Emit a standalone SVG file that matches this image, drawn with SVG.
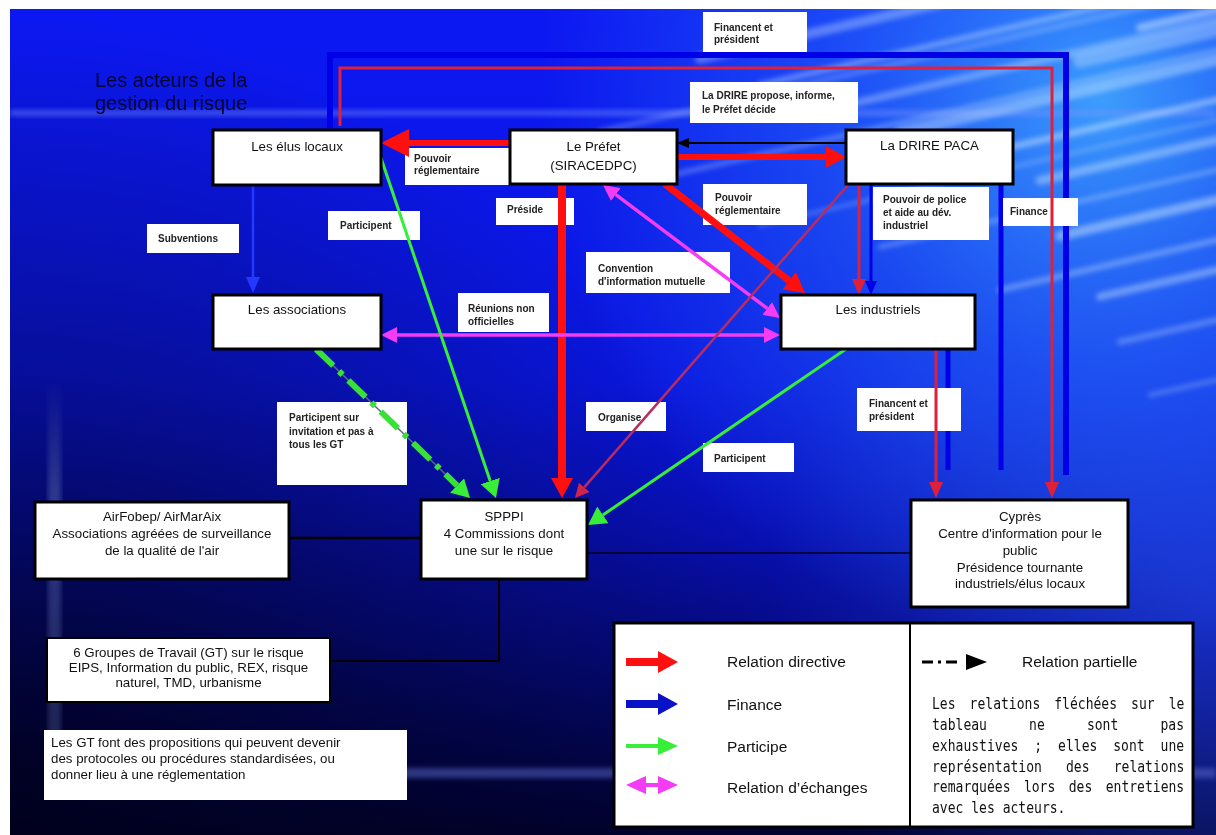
<svg xmlns="http://www.w3.org/2000/svg" width="1216" height="835" viewBox="0 0 1216 835">
<style>
.box{fill:#fff;stroke:#000;stroke-width:3}
.box2{fill:#fff;stroke:#000;stroke-width:2}
.lbl{fill:#fff}
.nt{font-family:"Liberation Sans",Arial,sans-serif;font-size:13.3px;fill:#111;text-anchor:middle}
.lt{font-family:"Liberation Sans",Arial,sans-serif;font-size:10px;font-weight:bold;fill:#222}
.leg{font-family:"Liberation Sans",Arial,sans-serif;font-size:15.5px;fill:#111}
.mono{font-family:"DejaVu Sans Mono","Liberation Mono",monospace;font-size:15px;fill:#111}
.title{font-family:"Liberation Sans",Arial,sans-serif;font-size:20px;fill:#05052e}
.red{fill:none;stroke:#ff1010}
.crim{fill:none;stroke:#e0203a;stroke-width:3}
.blue{fill:none;stroke:#0000e6}
.green{fill:none;stroke:#38ee38;stroke-width:3}
.mag{fill:none;stroke:#f53cf5;stroke-width:3.5}
.blk{fill:none;stroke:#000}
</style>
<defs>
<linearGradient id="bgV" x1="0" y1="0" x2="0" y2="1">
<stop offset="0" stop-color="#0c18f2"/>
<stop offset="0.45" stop-color="#0a16e0"/>
<stop offset="0.62" stop-color="#0810b8"/>
<stop offset="0.78" stop-color="#050a80"/>
<stop offset="0.92" stop-color="#02044a"/>
<stop offset="1" stop-color="#010230"/>
</linearGradient>
<radialGradient id="darkBL" cx="0" cy="835" r="820" gradientUnits="userSpaceOnUse">
<stop offset="0" stop-color="#000018" stop-opacity="0.8"/>
<stop offset="1" stop-color="#000018" stop-opacity="0"/>
</radialGradient>
<radialGradient id="lightR" cx="1216" cy="600" r="450" gradientUnits="userSpaceOnUse">
<stop offset="0" stop-color="#2a50ff" stop-opacity="0.5"/>
<stop offset="1" stop-color="#2a50ff" stop-opacity="0"/>
</radialGradient>
<radialGradient id="lightTR" cx="1100" cy="100" r="560" gradientUnits="userSpaceOnUse">
<stop offset="0" stop-color="#45b5ff" stop-opacity="0.85"/>
<stop offset="0.5" stop-color="#3090ff" stop-opacity="0.4"/>
<stop offset="1" stop-color="#3090ff" stop-opacity="0"/>
</radialGradient>
<linearGradient id="vband" x1="0" y1="0" x2="0" y2="1">
<stop offset="0" stop-color="#6070b0" stop-opacity="0"/>
<stop offset="0.3" stop-color="#6070b0" stop-opacity="0.45"/>
<stop offset="1" stop-color="#6070b0" stop-opacity="0.3"/>
</linearGradient>
<filter id="blur" x="-10%" y="-50%" width="120%" height="200%"><feGaussianBlur stdDeviation="2.5"/></filter>
<clipPath id="bgClip"><rect x="10" y="9" width="1206" height="826"/></clipPath>
<marker id="mRedL" markerUnits="userSpaceOnUse" markerWidth="28" markerHeight="28" refX="0" refY="14" orient="auto"><path d="M0,0 L28,14 L0,28 z" fill="#ff1010"/></marker>
<marker id="mRedM" markerUnits="userSpaceOnUse" markerWidth="20" markerHeight="22" refX="0" refY="11" orient="auto"><path d="M0,0 L20,11 L0,22 z" fill="#ff1010"/></marker>
<marker id="mCrim" markerUnits="userSpaceOnUse" markerWidth="16" markerHeight="14" refX="0" refY="7" orient="auto"><path d="M0,0 L16,7 L0,14 z" fill="#e0203a"/></marker>
<marker id="mOrg" markerUnits="userSpaceOnUse" markerWidth="14" markerHeight="14" refX="0" refY="7" orient="auto"><path d="M0,0 L14,7 L0,14 z" fill="#d0244a"/></marker>
<marker id="mBlue" markerUnits="userSpaceOnUse" markerWidth="14" markerHeight="12" refX="0" refY="6" orient="auto"><path d="M0,0 L14,6 L0,12 z" fill="#0000e6"/></marker>
<marker id="mSub" markerUnits="userSpaceOnUse" markerWidth="16" markerHeight="14" refX="0" refY="7" orient="auto"><path d="M0,0 L16,7 L0,14 z" fill="#2438ff"/></marker>
<marker id="mGreen" markerUnits="userSpaceOnUse" markerWidth="18" markerHeight="20" refX="0" refY="10" orient="auto"><path d="M0,0 L18,10 L0,20 z" fill="#38ee38"/></marker>
<marker id="mMag" markerUnits="userSpaceOnUse" markerWidth="16" markerHeight="16" refX="0" refY="8" orient="auto-start-reverse"><path d="M0,0 L16,8 L0,16 z" fill="#f53cf5"/></marker>
<marker id="mBlack" markerUnits="userSpaceOnUse" markerWidth="12" markerHeight="10" refX="0" refY="5" orient="auto"><path d="M0,0 L12,5 L0,10 z" fill="#000"/></marker>
</defs>

<g id="background">
<rect x="0" y="0" width="1216" height="835" fill="#fff"/>
<rect x="10" y="9" width="1206" height="826" fill="url(#bgV)"/>
<g clip-path="url(#bgClip)">
<rect x="10" y="9" width="1206" height="826" fill="url(#darkBL)"/>
<rect x="10" y="9" width="1206" height="826" fill="url(#lightR)"/>
<rect x="10" y="9" width="1206" height="826" fill="url(#lightTR)"/>
<rect x="10" y="110" width="1206" height="6" fill="#7a95ff" opacity="0.45" filter="url(#blur)"/>
<rect x="340" y="768" width="876" height="10" fill="#5a6ad0" opacity="0.5" filter="url(#blur)"/>
<rect x="48" y="380" width="13" height="370" fill="url(#vband)" filter="url(#blur)"/>
<g stroke="#d4ebff" stroke-linecap="round" fill="none" filter="url(#blur)">
<line x1="700" y1="58.7" x2="1230" y2="-63" stroke-width="10" opacity="0.35"/>
<line x1="760" y1="84.9" x2="1230" y2="-23" stroke-width="6" opacity="0.4"/>
<line x1="820" y1="111" x2="1230" y2="17" stroke-width="8" opacity="0.35"/>
<line x1="650" y1="180" x2="1230" y2="47" stroke-width="5" opacity="0.3"/>
<line x1="900" y1="132.7" x2="1230" y2="57" stroke-width="12" opacity="0.4"/>
<line x1="980" y1="154" x2="1230" y2="97" stroke-width="7" opacity="0.45"/>
<line x1="1040" y1="180.5" x2="1230" y2="137" stroke-width="9" opacity="0.4"/>
<line x1="880" y1="247" x2="1230" y2="167" stroke-width="5" opacity="0.3"/>
<line x1="1060" y1="236" x2="1230" y2="197" stroke-width="10" opacity="0.45"/>
<line x1="1000" y1="290" x2="1230" y2="237" stroke-width="6" opacity="0.35"/>
<line x1="1100" y1="296.7" x2="1230" y2="267" stroke-width="8" opacity="0.4"/>
<line x1="1120" y1="342" x2="1230" y2="317" stroke-width="6" opacity="0.3"/>
<line x1="760" y1="225" x2="1230" y2="117" stroke-width="4" opacity="0.25"/>
<line x1="1150" y1="395" x2="1230" y2="377" stroke-width="5" opacity="0.25"/>
<line x1="600" y1="131.7" x2="1230" y2="-13" stroke-width="6" opacity="0.25"/>
<line x1="1080" y1="61" x2="1230" y2="27" stroke-width="14" opacity="0.35"/>
<line x1="1140" y1="27.5" x2="1230" y2="7" stroke-width="8" opacity="0.5"/>
</g>
</g>
<text class="title" fill="#05052e" x="95" y="87">Les acteurs de la</text>
<text class="title" fill="#05052e" x="95" y="110">gestion du risque</text>
</g>

<g id="connectors-finance">
<path class="blue" stroke-width="6" d="M330,128 V55 H1066 V475"/>
<path class="blue" stroke-width="5" d="M1001,184 V470"/>
<path class="blue" stroke-width="5" d="M948,349 V470"/>
<path class="blue" stroke-width="3" d="M871,184 V281" marker-end="url(#mBlue)"/>
<path fill="none" stroke="#2438ff" stroke-width="2.5" d="M253,186 V277" marker-end="url(#mSub)"/>
</g>

<g id="labels">
<g id="lbl-financent-top"><rect class="lbl" x="703" y="12" width="104" height="40"/><text class="lt" x="714" y="31">Financent et</text><text class="lt" x="714" y="43">président</text></g>
<g id="lbl-drire-propose"><rect class="lbl" x="690" y="82" width="168" height="41"/><text class="lt" x="702" y="99">La DRIRE propose, informe,</text><text class="lt" x="702" y="113">le Préfet décide</text></g>
<g id="lbl-pouvoir1"><rect class="lbl" x="405" y="148" width="105" height="37"/><text class="lt" x="414" y="162">Pouvoir</text><text class="lt" x="414" y="174">réglementaire</text></g>
<g id="lbl-preside"><rect class="lbl" x="496" y="198" width="78" height="27"/><text class="lt" x="507" y="213">Préside</text></g>
<g id="lbl-pouvoir2"><rect class="lbl" x="703" y="184" width="104" height="41"/><text class="lt" x="715" y="201">Pouvoir</text><text class="lt" x="715" y="214">réglementaire</text></g>
<g id="lbl-police"><rect class="lbl" x="873" y="187" width="116" height="53"/><text class="lt" x="883" y="203">Pouvoir  de police</text><text class="lt" x="883" y="216">et aide au dév.</text><text class="lt" x="883" y="229">industriel</text></g>
<g id="lbl-finance"><rect class="lbl" x="1003" y="198" width="75" height="28"/><text class="lt" x="1010" y="215">Finance</text></g>
<g id="lbl-subventions"><rect class="lbl" x="147" y="224" width="92" height="29"/><text class="lt" x="158" y="242">Subventions</text></g>
<g id="lbl-participent1"><rect class="lbl" x="328" y="211" width="92" height="29"/><text class="lt" x="340" y="229">Participent</text></g>
<g id="lbl-convention"><rect class="lbl" x="586" y="252" width="144" height="41"/><text class="lt" x="598" y="272">Convention</text><text class="lt" x="598" y="285">d'information mutuelle</text></g>
<g id="lbl-reunions"><rect class="lbl" x="458" y="293" width="91" height="39"/><text class="lt" x="468" y="312">Réunions non</text><text class="lt" x="468" y="325">officielles</text></g>
<g id="lbl-invitation"><rect class="lbl" x="277" y="402" width="130" height="83"/><text class="lt" x="289" y="421">Participent sur</text><text class="lt" x="289" y="435">invitation et pas à</text><text class="lt" x="289" y="448">tous les GT</text></g>
<g id="lbl-organise"><rect class="lbl" x="586" y="402" width="80" height="29"/><text class="lt" x="598" y="421">Organise</text></g>
<g id="lbl-participent2"><rect class="lbl" x="703" y="443" width="91" height="29"/><text class="lt" x="714" y="462">Participent</text></g>
<g id="lbl-financent2"><rect class="lbl" x="857" y="388" width="104" height="43"/><text class="lt" x="869" y="407">Financent et</text><text class="lt" x="869" y="420">président</text></g>
</g>

<g id="connectors">
<path class="red" stroke-width="6" d="M510,143 H409" marker-end="url(#mRedL)"/>
<path class="blk" stroke-width="2" d="M846,143 H689" marker-end="url(#mBlack)"/>
<path class="red" stroke-width="6" d="M677,157 H826" marker-end="url(#mRedM)"/>
<path class="red" stroke-width="8" d="M562,184 V478" marker-end="url(#mRedM)"/>
<path class="red" stroke-width="7" d="M665,184 L789.2,280.7" marker-end="url(#mRedM)"/>
<path class="mag" d="M615.8,194.6 L767.2,308.4" marker-start="url(#mMag)" marker-end="url(#mMag)"/>
<path class="mag" d="M397,335 H764" marker-start="url(#mMag)" marker-end="url(#mMag)"/>
<path fill="none" stroke="#b82c62" stroke-width="2.5" d="M848,185 L584.2,487.4" marker-end="url(#mOrg)"/>
<path class="crim" d="M859,184 V279" marker-end="url(#mCrim)"/>
<path class="crim" d="M340,126 V68 H1052 V482" marker-end="url(#mCrim)"/>
<path class="crim" d="M936,349 V482" marker-end="url(#mCrim)"/>
<path class="green" d="M381,158 L490.2,481" marker-end="url(#mGreen)"/>
<path fill="none" stroke="#5a6a80" stroke-width="1.5" d="M316,349 L457.1,485.5"/>
<path fill="none" stroke="#38e038" stroke-width="6" stroke-dasharray="24 8 5 8" d="M316,349 L457.1,485.5" marker-end="url(#mGreen)"/>
<path class="green" d="M846,349 L602.9,514.9" marker-end="url(#mGreen)"/>
<path class="blk" stroke-width="2.5" d="M289,538 H421"/>
<path fill="none" stroke="#02021a" stroke-width="1.5" d="M587,553 H911"/>
<path class="blk" stroke-width="2" d="M499,579 V661 H332"/>
</g>

<g id="elus"><rect class="box" x="213" y="130" width="168" height="55"/><text class="nt" x="297" y="151">Les élus locaux</text></g>
<g id="prefet"><rect class="box" x="510" y="130" width="167" height="54"/><text class="nt" x="593.5" y="151">Le Préfet</text><text class="nt" x="593.5" y="170">(SIRACEDPC)</text></g>
<g id="drire"><rect class="box" x="846" y="130" width="167" height="54"/><text class="nt" x="929.5" y="150">La DRIRE PACA</text></g>
<g id="associations"><rect class="box" x="213" y="295" width="168" height="54"/><text class="nt" x="297" y="314">Les associations</text></g>
<g id="industriels"><rect class="box" x="781" y="295" width="194" height="54"/><text class="nt" x="878" y="314">Les industriels</text></g>
<g id="airfobep"><rect class="box" x="35" y="502" width="254" height="77"/><text class="nt" x="162" y="521">AirFobep/ AirMarAix</text><text class="nt" x="162" y="538">Associations agréées de surveillance</text><text class="nt" x="162" y="555">de la qualité de l'air</text></g>
<g id="spppi"><rect class="box" x="421" y="500" width="166" height="79"/><text class="nt" x="504" y="521">SPPPI</text><text class="nt" x="504" y="538">4 Commissions dont</text><text class="nt" x="504" y="555">une sur le risque</text></g>
<g id="cypres"><rect class="box" x="911" y="500" width="217" height="107"/><text class="nt" x="1020" y="521">Cyprès</text><text class="nt" x="1020" y="538">Centre d'information pour le</text><text class="nt" x="1020" y="555">public</text><text class="nt" x="1020" y="572">Présidence tournante</text><text class="nt" x="1020" y="588">industriels/élus locaux</text></g>
<g id="gt"><rect class="box2" x="47" y="638" width="283" height="64"/><text class="nt" x="188.5" y="657">6 Groupes de Travail (GT) sur le risque</text><text class="nt" x="188.5" y="672">EIPS, Information du public, REX, risque</text><text class="nt" x="188.5" y="687">naturel, TMD, urbanisme</text></g>
<g id="note"><rect fill="#fff" x="44" y="730" width="363" height="70"/><text class="nt" style="text-anchor:start" x="51" y="747">Les GT font des propositions qui peuvent devenir</text><text class="nt" style="text-anchor:start" x="51" y="763">des protocoles ou procédures standardisées, ou</text><text class="nt" style="text-anchor:start" x="51" y="779">donner lieu à une réglementation</text></g>

<g id="legend">
<rect class="box" x="614" y="623" width="579" height="204"/>
<line x1="910" y1="623" x2="910" y2="827" stroke="#000" stroke-width="2"/>
<path d="M626,662 H660" stroke="#ff1010" stroke-width="8"/><path d="M658,651 L678,662 L658,673 z" fill="#ff1010"/>
<text class="leg" x="727" y="667">Relation directive</text>
<path d="M626,704 H660" stroke="#0a12c8" stroke-width="8"/><path d="M658,693 L678,704 L658,715 z" fill="#0a12c8"/>
<text class="leg" x="727" y="710">Finance</text>
<path d="M626,746 H660" stroke="#38ee38" stroke-width="4"/><path d="M658,737 L678,746 L658,755 z" fill="#38ee38"/>
<text class="leg" x="727" y="752">Participe</text>
<path d="M644,785 H660" stroke="#f53cf5" stroke-width="4"/><path d="M658,776 L678,785 L658,794 z" fill="#f53cf5"/><path d="M646,776 L626,785 L646,794 z" fill="#f53cf5"/>
<text class="leg" x="727" y="793">Relation d’échanges</text>
<path d="M922,662 H962" stroke="#000" stroke-width="3" stroke-dasharray="11 5 3 5"/><path d="M966,654 L987,662 L966,670 z" fill="#000"/>
<text class="leg" x="1022" y="667">Relation partielle</text>
<g transform="translate(932,0) scale(0.87,1)">
<text class="mono" x="0" y="709" word-spacing="7.1">Les relations fléchées sur le</text>
<text class="mono" x="0" y="730" word-spacing="39.4">tableau ne sont pas</text>
<text class="mono" x="0" y="751" word-spacing="9.3">exhaustives ; elles sont une</text>
<text class="mono" x="0" y="772" word-spacing="18.7">représentation des relations</text>
<text class="mono" x="0" y="792" word-spacing="6.4">remarquées lors des entretiens</text>
<text class="mono" x="0" y="813">avec les acteurs.</text>
</g>
</g>
</svg>
